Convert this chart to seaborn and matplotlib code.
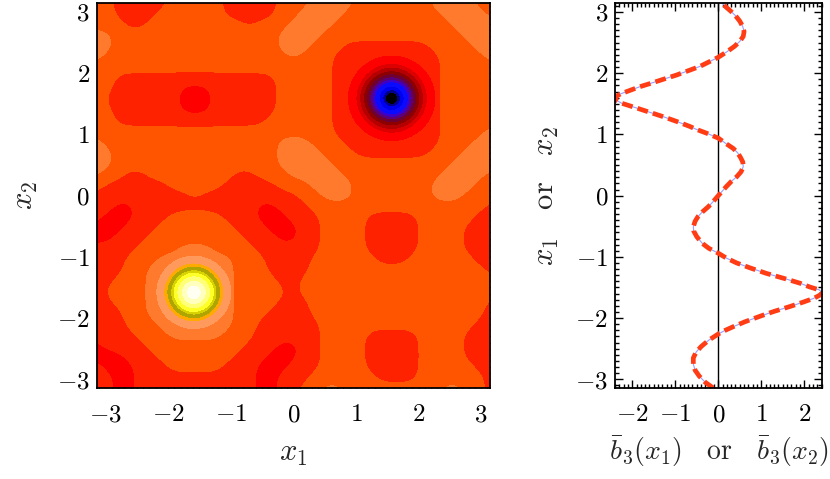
import numpy as np
import matplotlib
matplotlib.use("Agg")
import matplotlib.pyplot as plt
from matplotlib.ticker import MultipleLocator
import seaborn as sns

sns.set_theme(style="ticks")
plt.rcParams["font.family"] = ["DejaVu Serif"]
plt.rcParams["mathtext.fontset"] = "cm"

# contour level of the field on a 37x37 grid
# rows: x2 = pi (top) ... -pi (bottom); columns: x1 = -pi ... pi
# R red, r red-orange, . background orange, o light orange
field_rows = [
    "..rrrrr.....rrrrr...oooo.......oooo..",
    "..rrrr......rrrrr..oooo.........oooo.",
    "...rr.........r...oooo...........oooo",
    "oo...............oooo.............ooo",
    "oo...............ooo...rrrrrrrr....oo",
    "o.................o...rrrrrrrrrr....o",
    "......................rrrrrrrrrr.....",
    "..rrrrrrrrrrrrrrr.....rrrrrrrrrr.....",
    "..rrrrrrRRRrrrrrr.....rrrrrrrrrr.....",
    ".rrrrrrrRRRrrrrrr.....rrrrrrrrrr.....",
    "..rrrrrrRRRrrrrrr.....rrrrrrrrrr.....",
    "..rrrrrrrrrrrrrr......rrrrrrrrrr.....",
    "......................rrrrrrrrrr....o",
    "o................ooo...rrrrrrrrr...oo",
    "oo...............oooo...rrrrrrr...ooo",
    "oo...............ooooo...........oooo",
    "o..rr........rr...ooooo.........oooo.",
    ".rrrrrr.....rrrrr...oooo.......oooo..",
    "rrrrrrrrr.rrrrrrrrr..ooo.......ooo...",
    "rrRRrrrrrrrrrrrRRrrr................r",
    "rRRRrrr.....rrrRRRrrr....rrrrr.....rr",
    "RRRrrr.......rrrRRRrr....rrrrr....rrr",
    "RRrrr.........rrrRRrr....rrrrr....rrr",
    "rrrr....ooo....rrrrrr....rrrrr....rrr",
    "rrr...ooooooo...rrrr......rrr......rr",
    "rrr..oooooooo...rrrr................r",
    "rr...oooooooo....rr..................",
    "r....oooooooo.....r..................",
    "rr...oooooooo....rrr................r",
    "rrr..oooooooo...rrrr................r",
    "rrr...ooooooo..rrrrrr..............rr",
    "rrrr...ooooo...rrrrrr....rrrrr....rrr",
    "Rrrrr.........rrrRRrr....rrrrr....rrr",
    "RRRrrr.......rrrRRRrr....rrrrr....rrr",
    "rRRRrrr.....rrrRRRrrr....rrrrr.....rr",
    "rrRRrrrrrrrrrrrRRrrr......rrrr......r",
    "rrRRrrrrrrrrrrrRRrr..oo.........oo..r",
]
level_of = {"R": -2, "r": -1, ".": 0, "o": 1}
level_colors = ["#ff0000", "#ff2200", "#ff5500", "#ff7a2c"]

# the two extrema: centre and ring radii (outer edge of each colour band)
bright_center = (-1.59, -1.58)
bright_radii = [0.12, 0.20, 0.27, 0.33, 0.37, 0.43, 0.48, 0.59]
bright_colors = ["#fffff2", "#ffffbe", "#ffff78", "#ffff28",
                 "#d7d200", "#afa500", "#ffaa00", "#ff9a5c"]

dark_center = (1.57, 1.59)
dark_radii = [0.10, 0.14, 0.20, 0.27, 0.31, 0.35, 0.40, 0.45, 0.51, 0.57, 0.69]
dark_colors = ["#000000", "#00008c", "#0000f0", "#0a0aff", "#3c00c8", "#5a0078",
               "#6e0032", "#8c0000", "#b40000", "#dc0000", "#ff0000"]

# averaged profile b3 vs x
x_profile = [-3.14, -3.05, -2.95, -2.85, -2.75, -2.65, -2.55, -2.46, -2.36, -2.26,
             -2.20, -2.14, -2.06, -1.97, -1.89, -1.81, -1.74, -1.68, -1.63, -1.59,
             -1.54, -1.49, -1.43, -1.35, -1.27, -1.18, -1.10, -1.02, -0.94, -0.86,
             -0.78, -0.67, -0.58, -0.51, -0.42, -0.34, -0.26, -0.18, -0.09, 0.00,
             0.08, 0.15, 0.23, 0.31, 0.39, 0.47, 0.55, 0.62, 0.70, 0.77,
             0.85, 0.94, 1.02, 1.08, 1.13, 1.21, 1.29, 1.37, 1.45, 1.51,
             1.56, 1.61, 1.66, 1.72, 1.78, 1.83, 1.90, 1.97, 2.04, 2.11,
             2.19, 2.26, 2.35, 2.44, 2.52, 2.60, 2.68, 2.76, 2.85, 2.94,
             3.02, 3.08, 3.14]
b3_profile = [-0.12, -0.30, -0.44, -0.54, -0.58, -0.58, -0.51, -0.39, -0.22, 0.00,
              0.16, 0.35, 0.62, 0.97, 1.30, 1.67, 1.97, 2.21, 2.35, 2.42,
              2.35, 2.12, 1.90, 1.52, 1.12, 0.74, 0.43, 0.19, 0.00, -0.22,
              -0.37, -0.50, -0.57, -0.58, -0.54, -0.47, -0.36, -0.23, -0.11, 0.00,
              0.10, 0.19, 0.30, 0.43, 0.53, 0.58, 0.57, 0.52, 0.45, 0.35,
              0.18, 0.00, -0.27, -0.50, -0.66, -0.96, -1.28, -1.63, -1.98, -2.25,
              -2.37, -2.40, -2.28, -2.05, -1.82, -1.59, -1.28, -0.97, -0.70, -0.43,
              -0.20, 0.00, 0.20, 0.38, 0.50, 0.58, 0.60, 0.57, 0.50, 0.40,
              0.28, 0.18, 0.10]


def smooth_levels(Z, k=8, sigma=0.75):
    # refine the level map and soften the cell corners so the bands come out rounded
    n = Z.shape[0]
    src = np.arange(n)
    dst = np.linspace(0, n - 1, (n - 1) * k + 1)
    Z = np.array([np.interp(dst, src, r) for r in Z])
    Z = np.array([np.interp(dst, src, c) for c in Z.T]).T
    s = sigma * k
    t = np.arange(-int(3 * s), int(3 * s) + 1)
    w = np.exp(-0.5 * (t / s) ** 2)
    w /= w.sum()
    m = len(t) // 2
    P = np.pad(Z, m, mode="edge")
    P = np.apply_along_axis(lambda v: np.convolve(v, w, mode="valid"), 0, P)
    P = np.apply_along_axis(lambda v: np.convolve(v, w, mode="valid"), 1, P)
    return dst, P


fig = plt.figure(figsize=(8.3, 4.79), dpi=100)
ax1 = fig.add_axes([0.1165, 0.19, 0.4739, 0.8031])
ax2 = fig.add_axes([0.741, 0.19, 0.2498, 0.8031])

# left: filled contours
Z = np.array([[level_of[c] for c in row.ljust(37, ".")[:37]] for row in field_rows[::-1]], float)
idx, Zs = smooth_levels(Z)
grid = -np.pi + idx * (2 * np.pi / 36)
ax1.contourf(grid, grid, Zs, levels=[-2.5, -1.5, -0.5, 0.5, 1.5], colors=level_colors,
             extend="both")

fine = np.linspace(-np.pi, np.pi, 700)
FX, FY = np.meshgrid(fine, fine)
for (cx, cy), radii, cols in [(bright_center, bright_radii, bright_colors),
                              (dark_center, dark_radii, dark_colors)]:
    D = np.hypot(FX - cx, FY - cy)
    ax1.contourf(FX, FY, D, levels=[0] + radii, colors=cols)

ax1.set_xlim(-np.pi, np.pi)
ax1.set_ylim(-np.pi, np.pi)
ticks = [-3, -2, -1, 0, 1, 2, 3]
ax1.set_xticks(ticks, labels=[f"${t}$" for t in ticks])
ax1.set_yticks(ticks, labels=[f"${t}$" for t in ticks])
ax1.set_xlabel(r"$x_1$", fontsize=22, labelpad=8)
ax1.set_ylabel(r"$x_2$", fontsize=22, labelpad=12)

# right: averaged profile
ax2.axvline(0, color="black", lw=1)
sns.lineplot(x=b3_profile, y=x_profile, orient="y", color="#9c9cff", lw=0.8, ax=ax2)
sns.lineplot(x=b3_profile, y=x_profile, orient="y", color="#ff3c14", lw=3.4,
             linestyle=(0, (2.3, 1.1)), ax=ax2)
ax2.set_xlim(min(b3_profile), max(b3_profile))
ax2.set_ylim(-np.pi, np.pi)
xt = [-2, -1, 0, 1, 2]
ax2.set_xticks(xt, labels=[f"${t}$" for t in xt])
ax2.set_yticks(ticks, labels=[f"${t}$" for t in ticks])
ax2.set_xlabel(r"$\bar{b}_3(x_1)\quad\mathrm{or}\quad\bar{b}_3(x_2)$", fontsize=20, labelpad=6)
ax2.set_ylabel(r"$x_1\quad\mathrm{or}\quad x_2$", fontsize=22, labelpad=10)

for ax in (ax1, ax2):
    ax.xaxis.set_minor_locator(MultipleLocator(0.1))
    ax.yaxis.set_minor_locator(MultipleLocator(0.1))
    ax.tick_params(which="both", direction="in", top=True, right=True,
                   color="black", width=1, labelsize=18, labelcolor="black")
    ax.tick_params(which="major", length=6)
    ax.tick_params(which="minor", length=3)
    ax.tick_params(axis="x", which="major", pad=11)
    ax.tick_params(axis="y", which="major", pad=5)
    for s in ax.spines.values():
        s.set_color("black")
        s.set_linewidth(1.3)

fig.savefig("out.png", dpi=100)
